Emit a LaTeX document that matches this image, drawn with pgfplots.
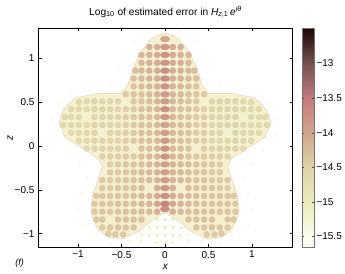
\documentclass[border=0pt]{standalone}
\usepackage{fontspec}
\setmainfont{Liberation Sans}
\usepackage{pgfplots}
\pgfplotsset{compat=1.18}
\definecolor{basecol}{RGB}{245,241,208}
\definecolor{edgecol}{RGB}{226,205,175}
\pgfplotsset{errmap/.style={colormap={errmap}{rgb255(0pt)=(255,255,250); rgb255(15pt)=(251,251,236); rgb255(65pt)=(235,235,185); rgb255(115pt)=(222,212,165); rgb255(165pt)=(209,165,140); rgb255(215pt)=(194,122,122); rgb255(265pt)=(118,82,82); rgb255(316pt)=(30,5,5)}}}
\begin{document}
\begin{tikzpicture}
\useasboundingbox (-38.5pt,-26pt) rectangle (306.5pt,247pt);
\begin{axis}[
  errmap, at={(0,0)}, anchor=south west, scale only axis, width=254pt, height=219pt,
  xmin=-1.454, xmax=1.466, ymin=-1.153, ymax=1.347,
  point meta min=-15.65, point meta max=-12.49,
  tick align=inside, major tick length=3pt, tick style={black, line width=.3pt},
  axis line style={line width=.6pt},
  xtick={-1,-0.5,0,0.5,1}, xticklabels={−1,−0.5,0,0.5,1},
  ytick={-1,-0.5,0,0.5,1}, yticklabels={−1,−0.5,0,0.5,1},
  tick label style={font=\fontsize{10}{12}\selectfont},
  xticklabel style={yshift=-0.5pt}, yticklabel style={xshift=-0.5pt},
  clip=true, clip mode=individual,
  title={Log\textsubscript{10} of estimated error in \textit{H}\textsubscript{\textit{z},1}\,\textit{e}\textsuperscript{\textit{iθ}}},
  title style={font=\fontsize{10.2}{12}\selectfont, at={(0.5,1)}, yshift=1pt},
  xlabel={\textit{x}}, ylabel={\textit{z}},
  label style={font=\fontsize{10}{12}\selectfont},
  xlabel style={at={(axis description cs:0.5,0)}, yshift=-14pt},
  ylabel style={at={(axis description cs:0,0.5)}, yshift=22pt},
  colorbar,
  colorbar style={at={(1.0374,1)}, anchor=north west, width=12pt, height=219pt,
    ytick={-15.5,-15,-14.5,-14,-13.5,-13}, yticklabels={−15.5,−15,−14.5,−14,−13.5,−13},
    tick align=inside, major tick length=2pt, tick style={black!70, line width=.3pt},
    axis line style={black!55, line width=.8pt},
    yticklabel style={font=\fontsize{10}{12}\selectfont, xshift=-1pt}},
  scatter/use mapped color={draw=mapped color, fill=mapped color},
]
% faint ripples around the surface
\addplot[scatter, only marks, mark=*, mark size=1.5pt, point meta=explicit] table[meta index=2] {
-0.45 1.05 -15.5
0.45 1.05 -15.5
-0.36 1.2 -15.5
0.36 1.2 -15.5
-0.18 1.3 -15.45
0.18 1.3 -15.45
-0.54 0.9 -15.5
0.54 0.9 -15.5
-0.63 0.72 -15.5
0.63 0.72 -15.5
-0.81 0.72 -15.55
0.81 0.72 -15.55
-1.08 0.63 -15.5
1.08 0.63 -15.5
-1.2 0.5 -15.5
1.2 0.5 -15.5
-1.29 0.3 -15.45
1.29 0.3 -15.45
-1.26 0.12 -15.45
1.26 0.12 -15.45
-1.12 -0.05 -15.45
1.12 -0.05 -15.45
-0.99 -0.2 -15.45
0.99 -0.2 -15.45
-0.9 -0.36 -15.45
0.9 -0.36 -15.45
-0.96 -0.54 -15.45
0.96 -0.54 -15.45
-1 -0.72 -15.45
1 -0.72 -15.45
-0.95 -0.9 -15.45
0.95 -0.9 -15.45
-0.85 -1.05 -15.5
0.85 -1.05 -15.5
-0.63 -1.12 -15.45
0.63 -1.12 -15.45
-0.42 -1.08 -15.35
0.42 -1.08 -15.35
-0.27 -1.08 -15.3
0.27 -1.08 -15.3
-0.09 -1.1 -15.2
0.09 -1.1 -15.2
-0.27 -1.01 -15.25
0.27 -1.01 -15.25
-0.18 -1.02 -15.15
0.18 -1.02 -15.15
-0.09 -1.02 -15.05
0 -1.02 -15
0.09 -1.02 -15.05
-0.18 -0.93 -15.1
-0.09 -0.93 -15
0 -0.93 -14.95
0.09 -0.93 -15
0.18 -0.93 -15.1
-0.09 -0.84 -14.95
0 -0.84 -14.9
0.09 -0.84 -14.95
0 -1.1 -15.15
};
% surface outline
\addplot[draw=edgecol, line width=.4pt, fill=basecol] coordinates {
(0,1.29) (0.09,1.26) (0.172,1.21) (0.287,1.06) (0.37,0.87) (0.425,0.7) (0.5,0.6) (0.63,0.6) (0.77,0.6) (1.03,0.55) (1.17,0.41) (1.22,0.26) (1.15,0.1) (0.955,-0.02) (0.77,-0.14) (0.72,-0.23) (0.75,-0.33) (0.83,-0.56) (0.85,-0.75) (0.78,-0.94) (0.655,-1.04) (0.49,-1.06) (0.31,-0.98) (0.15,-0.85) (0,-0.755)
(-0.15,-0.85) (-0.31,-0.98) (-0.49,-1.06) (-0.655,-1.04) (-0.78,-0.94) (-0.85,-0.75) (-0.83,-0.56) (-0.75,-0.33) (-0.72,-0.23) (-0.77,-0.14) (-0.955,-0.02) (-1.15,0.1) (-1.22,0.26) (-1.17,0.41) (-1.03,0.55) (-0.77,0.6) (-0.63,0.6) (-0.5,0.6) (-0.425,0.7) (-0.37,0.87) (-0.287,1.06) (-0.172,1.21) (-0.09,1.26)
} --cycle;
% lobes of the error pattern
\addplot[scatter, only marks, mark=*, mark size=3pt, mark options={opacity=.8}, point meta=explicit] table[meta index=2] {
-0.09 1.13 -13.9
0.09 1.13 -13.9
-0.18 1.13 -13.95
0.18 1.13 -13.95
-0.09 1.04 -13.9
0.09 1.04 -13.9
-0.18 1.04 -13.95
0.18 1.04 -13.95
-0.27 1.04 -14.05
0.27 1.04 -14.05
-0.09 0.95 -13.9
0.09 0.95 -13.9
-0.18 0.95 -13.95
0.18 0.95 -13.95
-0.27 0.95 -14.05
0.27 0.95 -14.05
-0.09 0.86 -13.9
0.09 0.86 -13.9
-0.18 0.86 -13.95
0.18 0.86 -13.95
-0.27 0.86 -14.05
0.27 0.86 -14.05
-0.34 0.86 -14.15
0.34 0.86 -14.15
-0.09 0.77 -13.95
0.09 0.77 -13.95
-0.18 0.77 -14
0.18 0.77 -14
-0.27 0.77 -14.1
0.27 0.77 -14.1
-0.36 0.77 -14.15
0.36 0.77 -14.15
-0.09 0.68 -14
0.09 0.68 -14
-0.18 0.68 -14.05
0.18 0.68 -14.05
-0.27 0.68 -14.15
0.27 0.68 -14.15
-0.36 0.68 -14.2
0.36 0.68 -14.2
-0.09 0.59 -14
0.09 0.59 -14
-0.18 0.59 -14.1
0.18 0.59 -14.1
-0.27 0.59 -14.2
0.27 0.59 -14.2
-0.36 0.59 -14.25
0.36 0.59 -14.25
-0.45 0.59 -14.3
0.45 0.59 -14.3
-0.09 0.51 -14.05
0.09 0.51 -14.05
-0.18 0.51 -14.15
0.18 0.51 -14.15
-0.27 0.51 -14.2
0.27 0.51 -14.2
-0.36 0.51 -14.3
0.36 0.51 -14.3
-0.54 0.51 -14.45
0.54 0.51 -14.45
-0.63 0.51 -14.45
0.63 0.51 -14.45
-0.72 0.51 -14.45
0.72 0.51 -14.45
-0.81 0.51 -14.45
0.81 0.51 -14.45
-0.9 0.51 -14.5
0.9 0.51 -14.5
-0.99 0.5 -14.5
0.99 0.5 -14.5
-0.09 0.42 -14.05
0.09 0.42 -14.05
-0.18 0.42 -14.15
0.18 0.42 -14.15
-0.27 0.42 -14.2
0.27 0.42 -14.2
-0.36 0.42 -14.3
0.36 0.42 -14.3
-0.45 0.42 -14.35
0.45 0.42 -14.35
-0.54 0.42 -14.45
0.54 0.42 -14.45
-0.63 0.42 -14.45
0.63 0.42 -14.45
-0.72 0.42 -14.45
0.72 0.42 -14.45
-0.81 0.42 -14.45
0.81 0.42 -14.45
-0.9 0.42 -14.5
0.9 0.42 -14.5
-0.99 0.42 -14.5
0.99 0.42 -14.5
-1.08 0.42 -14.5
1.08 0.42 -14.5
-0.09 0.33 -14.05
0.09 0.33 -14.05
-0.18 0.33 -14.15
0.18 0.33 -14.15
-0.27 0.33 -14.2
0.27 0.33 -14.2
-0.36 0.33 -14.3
0.36 0.33 -14.3
-0.45 0.33 -14.35
0.45 0.33 -14.35
-0.54 0.33 -14.45
0.54 0.33 -14.45
-0.63 0.33 -14.45
0.63 0.33 -14.45
-0.72 0.33 -14.45
0.72 0.33 -14.45
-0.81 0.33 -14.45
0.81 0.33 -14.45
-0.99 0.33 -14.5
0.99 0.33 -14.5
-1.08 0.33 -14.5
1.08 0.33 -14.5
-1.15 0.33 -14.5
1.15 0.33 -14.5
-0.09 0.24 -14.05
0.09 0.24 -14.05
-0.18 0.24 -14.15
0.18 0.24 -14.15
-0.27 0.24 -14.2
0.27 0.24 -14.2
-0.36 0.24 -14.3
0.36 0.24 -14.3
-0.45 0.24 -14.35
0.45 0.24 -14.35
-0.54 0.24 -14.45
0.54 0.24 -14.45
-0.63 0.24 -14.45
0.63 0.24 -14.45
-0.72 0.24 -14.45
0.72 0.24 -14.45
-0.81 0.24 -14.45
0.81 0.24 -14.45
-0.9 0.24 -14.5
0.9 0.24 -14.5
-0.99 0.24 -14.5
0.99 0.24 -14.5
-1.08 0.24 -14.5
1.08 0.24 -14.5
-1.17 0.24 -14.5
1.17 0.24 -14.5
-0.09 0.15 -14.05
0.09 0.15 -14.05
-0.18 0.15 -14.15
0.18 0.15 -14.15
-0.27 0.15 -14.2
0.27 0.15 -14.2
-0.36 0.15 -14.3
0.36 0.15 -14.3
-0.45 0.15 -14.35
0.45 0.15 -14.35
-0.54 0.15 -14.45
0.54 0.15 -14.45
-0.63 0.15 -14.45
0.63 0.15 -14.45
-0.81 0.15 -14.45
0.81 0.15 -14.45
-0.9 0.15 -14.5
0.9 0.15 -14.5
-0.99 0.15 -14.5
0.99 0.15 -14.5
-1.08 0.15 -14.5
1.08 0.15 -14.5
-0.09 0.06 -14.05
0.09 0.06 -14.05
-0.18 0.06 -14.15
0.18 0.06 -14.15
-0.27 0.06 -14.2
0.27 0.06 -14.2
-0.36 0.06 -14.3
0.36 0.06 -14.3
-0.45 0.06 -14.35
0.45 0.06 -14.35
-0.54 0.06 -14.45
0.54 0.06 -14.45
-0.63 0.06 -14.45
0.63 0.06 -14.45
-0.72 0.06 -14.45
0.72 0.06 -14.45
-0.81 0.06 -14.45
0.81 0.06 -14.45
-0.9 0.06 -14.5
0.9 0.06 -14.5
-0.99 0.06 -14.5
0.99 0.06 -14.5
-0.09 -0.03 -14.05
0.09 -0.03 -14.05
-0.18 -0.03 -14.15
0.18 -0.03 -14.15
-0.27 -0.03 -14.2
0.27 -0.03 -14.2
-0.45 -0.03 -14.35
0.45 -0.03 -14.35
-0.54 -0.03 -14.4
0.54 -0.03 -14.4
-0.63 -0.03 -14.4
0.63 -0.03 -14.4
-0.72 -0.03 -14.45
0.72 -0.03 -14.45
-0.81 -0.03 -14.45
0.81 -0.03 -14.45
-0.9 -0.03 -14.5
0.9 -0.03 -14.5
-0.09 -0.12 -14.05
0.09 -0.12 -14.05
-0.18 -0.12 -14.1
0.18 -0.12 -14.1
-0.27 -0.12 -14.2
0.27 -0.12 -14.2
-0.36 -0.12 -14.3
0.36 -0.12 -14.3
-0.45 -0.12 -14.3
0.45 -0.12 -14.3
-0.54 -0.12 -14.35
0.54 -0.12 -14.35
-0.63 -0.12 -14.35
0.63 -0.12 -14.35
-0.72 -0.12 -14.4
0.72 -0.12 -14.4
-0.09 -0.21 -14
0.09 -0.21 -14
-0.18 -0.21 -14.1
0.18 -0.21 -14.1
-0.27 -0.21 -14.15
0.27 -0.21 -14.15
-0.36 -0.21 -14.2
0.36 -0.21 -14.2
-0.45 -0.21 -14.25
0.45 -0.21 -14.25
-0.54 -0.21 -14.3
0.54 -0.21 -14.3
-0.63 -0.21 -14.35
0.63 -0.21 -14.35
-0.09 -0.3 -14
0.09 -0.3 -14
-0.18 -0.3 -14.1
0.18 -0.3 -14.1
-0.27 -0.3 -14.15
0.27 -0.3 -14.15
-0.36 -0.3 -14.2
0.36 -0.3 -14.2
-0.45 -0.3 -14.25
0.45 -0.3 -14.25
-0.54 -0.3 -14.3
0.54 -0.3 -14.3
-0.63 -0.3 -14.3
0.63 -0.3 -14.3
-0.09 -0.39 -14
0.09 -0.39 -14
-0.18 -0.39 -14.1
0.18 -0.39 -14.1
-0.27 -0.39 -14.15
0.27 -0.39 -14.15
-0.36 -0.39 -14.2
0.36 -0.39 -14.2
-0.45 -0.39 -14.25
0.45 -0.39 -14.25
-0.54 -0.39 -14.3
0.54 -0.39 -14.3
-0.63 -0.39 -14.3
0.63 -0.39 -14.3
-0.72 -0.39 -14.3
0.72 -0.39 -14.3
-0.09 -0.48 -13.95
0.09 -0.48 -13.95
-0.27 -0.48 -14.15
0.27 -0.48 -14.15
-0.36 -0.48 -14.2
0.36 -0.48 -14.2
-0.45 -0.48 -14.25
0.45 -0.48 -14.25
-0.54 -0.48 -14.25
0.54 -0.48 -14.25
-0.63 -0.48 -14.3
0.63 -0.48 -14.3
-0.72 -0.48 -14.3
0.72 -0.48 -14.3
-0.09 -0.57 -13.9
0.09 -0.57 -13.9
-0.18 -0.57 -14.05
0.18 -0.57 -14.05
-0.27 -0.57 -14.1
0.27 -0.57 -14.1
-0.36 -0.57 -14.15
0.36 -0.57 -14.15
-0.45 -0.57 -14.2
0.45 -0.57 -14.2
-0.54 -0.57 -14.25
0.54 -0.57 -14.25
-0.63 -0.57 -14.25
0.63 -0.57 -14.25
-0.72 -0.57 -14.25
0.72 -0.57 -14.25
-0.79 -0.57 -14.3
0.79 -0.57 -14.3
-0.09 -0.66 -13.8
0.09 -0.66 -13.8
-0.18 -0.66 -14
0.18 -0.66 -14
-0.27 -0.66 -14.1
0.27 -0.66 -14.1
-0.36 -0.66 -14.15
0.36 -0.66 -14.15
-0.45 -0.66 -14.2
0.45 -0.66 -14.2
-0.54 -0.66 -14.2
0.54 -0.66 -14.2
-0.63 -0.66 -14.25
0.63 -0.66 -14.25
-0.72 -0.66 -14.25
0.72 -0.66 -14.25
-0.81 -0.66 -14.3
0.81 -0.66 -14.3
-0.09 -0.75 -13.95
0.09 -0.75 -13.95
-0.18 -0.75 -14.1
0.18 -0.75 -14.1
-0.27 -0.75 -14.15
0.27 -0.75 -14.15
-0.36 -0.75 -14.15
0.36 -0.75 -14.15
-0.45 -0.75 -14.2
0.45 -0.75 -14.2
-0.54 -0.75 -14.2
0.54 -0.75 -14.2
-0.63 -0.75 -14.25
0.63 -0.75 -14.25
-0.72 -0.75 -14.25
0.72 -0.75 -14.25
-0.81 -0.75 -14.3
0.81 -0.75 -14.3
-0.27 -0.84 -14.2
0.27 -0.84 -14.2
-0.36 -0.84 -14.2
0.36 -0.84 -14.2
-0.45 -0.84 -14.2
0.45 -0.84 -14.2
-0.54 -0.84 -14.2
0.54 -0.84 -14.2
-0.72 -0.84 -14.25
0.72 -0.84 -14.25
-0.79 -0.84 -14.3
0.79 -0.84 -14.3
-0.36 -0.93 -14.25
0.36 -0.93 -14.25
-0.45 -0.93 -14.25
0.45 -0.93 -14.25
-0.54 -0.93 -14.2
0.54 -0.93 -14.2
-0.63 -0.93 -14.25
0.63 -0.93 -14.25
-0.72 -0.93 -14.3
0.72 -0.93 -14.3
-0.48 -1.01 -14.3
0.48 -1.01 -14.3
-0.57 -1.01 -14.3
0.57 -1.01 -14.3
-0.65 -1 -14.3
0.65 -1 -14.3
};
% wider lobes along the axis x = 0
\addplot[scatter, only marks, mark=*, mark size=2.9pt, mark options={xscale=1.6, opacity=.9}, point meta=explicit] table[meta index=2] {
0 1.22 -13.95
0 1.13 -13.75
0 1.04 -13.7
0 0.95 -13.7
0 0.86 -13.65
0 0.77 -13.6
0 0.68 -13.7
0 0.59 -13.8
0 0.51 -13.8
0 0.42 -13.65
0 0.33 -13.75
0 0.24 -13.85
0 0.15 -13.8
0 0.06 -13.75
0 -0.03 -13.7
0 -0.12 -13.7
0 -0.21 -13.85
0 -0.3 -13.85
0 -0.39 -13.8
0 -0.48 -13.75
0 -0.57 -13.65
0 -0.66 -13.5
0 -0.72 -13.65
};
\node[font=\fontsize{9}{11}\selectfont\itshape, anchor=west] at (rel axis cs:-0.105,-0.073) {(f)};
\end{axis}
\end{tikzpicture}
\end{document}
